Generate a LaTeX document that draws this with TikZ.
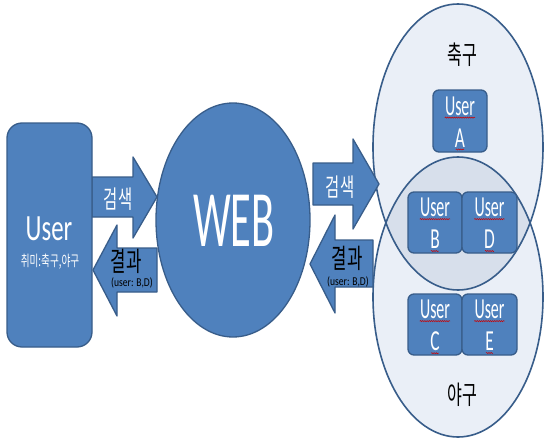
\documentclass[tikz,border=0pt]{standalone}
\usepackage{fontspec}
\setmainfont{Carlito}
\newfontfamily\kr{Noto Sans CJK KR}
\usetikzlibrary{decorations.pathmorphing}
\definecolor{bfill}{HTML}{4F81BD}
\definecolor{bline}{HTML}{385D8A}
\definecolor{lfill}{HTML}{EAEFF7}
\definecolor{ifill}{HTML}{D7DFEB}
\newcommand\sqz[2]{\scalebox{#1}[1]{#2}}
\tikzset{
  blueshape/.style={fill=bfill,draw=bline,line width=1.3pt,line join=round},
  vennline/.style={draw=bline,line width=1.6pt},
  ubox/.style={blueshape,rounded corners=6pt},
  wtxt/.style={text=white,inner sep=0pt},
  btxt/.style={text=black,inner sep=0pt},
  squig/.style={draw=red!80!black,line width=0.5pt,decorate,decoration={snake,amplitude=0.6pt,segment length=2.2pt}},
}
\begin{document}
\begin{tikzpicture}[x=1pt,y=-1pt]
\useasboundingbox (0,0) rectangle (544,439);
\fill[white] (0,0) rectangle (544,439);
% Venn ellipses
\fill[lfill] (458,147) ellipse [x radius=85pt, y radius=143pt];
\fill[lfill] (458,297) ellipse [x radius=85pt, y radius=140pt];
\begin{scope}
  \clip (458,147) ellipse [x radius=85pt, y radius=143pt];
  \fill[ifill] (458,297) ellipse [x radius=85pt, y radius=140pt];
\end{scope}
\draw[vennline] (458,147) ellipse [x radius=85pt, y radius=143pt];
\draw[vennline] (458,297) ellipse [x radius=85pt, y radius=140pt];
% WEB ellipse
\draw[blueshape] (233,220) ellipse [x radius=77pt, y radius=117pt];
% arrows
\draw[blueshape] (92,177) -- (133,177) -- (133,157) -- (157,197) -- (133,238) -- (133,217) -- (92,217) -- cycle;
\draw[blueshape] (157,248) -- (117,248) -- (117,225) -- (93,270) -- (117,316) -- (117,292) -- (157,292) -- cycle;
\draw[blueshape] (313,163) -- (353,163) -- (353,139) -- (379,184) -- (353,229) -- (353,205) -- (313,205) -- cycle;
\draw[blueshape] (373,240) -- (335,240) -- (335,215) -- (310,264) -- (335,313) -- (335,287) -- (373,287) -- cycle;
% user box
\draw[blueshape,rounded corners=15pt] (7,123) rectangle (92,347);
% small boxes
\draw[ubox] (433,90) rectangle (487,152);
\draw[ubox] (408,192) rectangle (462,253);
\draw[ubox] (462,192) rectangle (517,253);
\draw[ubox] (408,294) rectangle (462,355);
\draw[ubox] (462,294) rectangle (517,355);
% texts
\node[wtxt,font=\fontsize{37}{37}\selectfont] (tuser) at (49,229) {\sqz{0.67}{User}};
\node[wtxt,font=\kr\fontsize{15}{15}\selectfont] (thobby) at (50,262) {\sqz{0.64}{취미:축구,야구}};
\node[wtxt,font=\fontsize{80}{80}\selectfont] (tweb) at (234,221) {\sqz{0.53}{WEB}};
\node[wtxt,font=\kr\fontsize{25}{25}\selectfont] (s1) at (118,199) {\sqz{0.62}{검색}};
\node[btxt,font=\kr\fontsize{27}{27}\selectfont] (r1) at (126,261) {\sqz{0.62}{결과}};
\node[btxt,font=\fontsize{12}{12}\selectfont] (r1b) at (132,283) {\sqz{0.8}{(user: B,D)}};
\node[wtxt,font=\kr\fontsize{25}{25}\selectfont] (s2) at (340,187) {\sqz{0.62}{검색}};
\node[btxt,font=\kr\fontsize{27}{27}\selectfont] (r2) at (347,258) {\sqz{0.62}{결과}};
\node[btxt,font=\fontsize{12}{12}\selectfont] (r2b) at (348,282) {\sqz{0.8}{(user: B,D)}};
\node[btxt,font=\kr\fontsize{26}{26}\selectfont] (soccer) at (462,55) {\sqz{0.62}{축구}};
\node[btxt,font=\kr\fontsize{26}{26}\selectfont] (baseball) at (462,395) {\sqz{0.62}{야구}};
% small box labels
\foreach \n/\cx/\cy/\l in {a/460/121/A, b/435/222.5/B, d/489.5/222.5/D, c/435/324.5/C, e/489.5/324.5/E}{
  \node[wtxt,font=\fontsize{29}{29}\selectfont] (u\n) at (\cx,\cy-15) {\sqz{0.55}{User}};
  \node[wtxt,font=\fontsize{29}{29}\selectfont] (l\n) at (\cx,\cy+17) {\sqz{0.6}{\l}};
  \draw[squig] ([yshift=-2pt]u\n.south west) -- ([yshift=-2pt]u\n.south east);
  \draw[squig] ([yshift=-2pt,xshift=1pt]l\n.south west) -- ([yshift=-2pt,xshift=-1pt]l\n.south east);
}
\end{tikzpicture}
\end{document}
